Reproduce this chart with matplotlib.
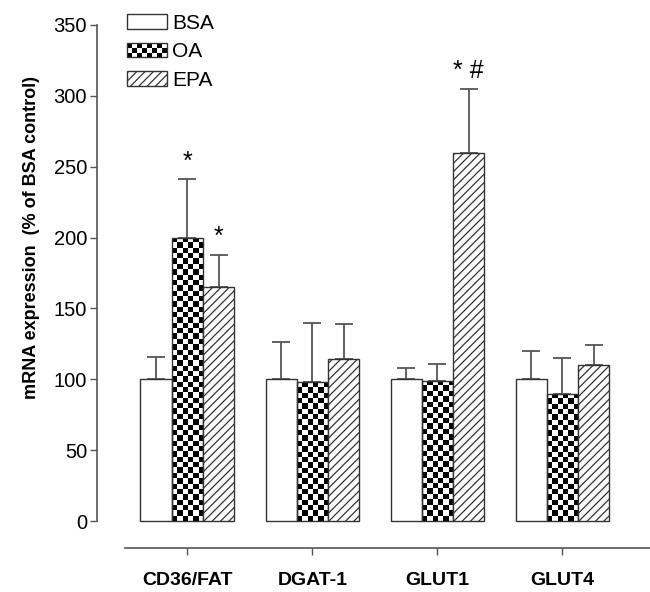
import numpy as np
import matplotlib.pyplot as plt
from matplotlib.patches import Rectangle
from matplotlib.legend_handler import HandlerBase

genes = ["CD36/FAT", "DGAT-1", "GLUT1", "GLUT4"]
groups = ["BSA", "OA", "EPA"]

bsa = [100, 100, 100, 100]
bsa_err = [16, 26, 8, 20]
oa = [200, 98, 99, 90]
oa_err = [41, 42, 12, 25]
epa = [165, 114, 260, 110]
epa_err = [23, 25, 45, 14]

# significance marks: (gene index, group index, text)
marks = [(0, 1, "*"), (0, 2, "*"), (2, 2, "* #")]

edge = "#333333"
errc = "#555555"


def checker_fill(ax, bar, ncols=6, cell_px=5.3):
    # checkerboard pattern clipped to the bar
    x0, w, h = bar.get_x(), bar.get_width(), bar.get_height()
    px_per_unit = ax.transData.transform((0, 1))[1] - ax.transData.transform((0, 0))[1]
    nrows = max(1, int(round(h * px_per_unit / cell_px)))
    img = (np.indices((nrows, ncols)).sum(axis=0) % 2).astype(float)
    im = ax.imshow(img, cmap="gray", vmin=0, vmax=1, extent=(x0, x0 + w, 0, h),
                   origin="lower", aspect="auto", interpolation="nearest", zorder=1.5)
    im.set_clip_path(bar)


class CheckerHandler(HandlerBase):
    def legend_artist(self, legend, orig_handle, fontsize, handlebox):
        x0, y0 = handlebox.xdescent, handlebox.ydescent
        w, h = handlebox.width, handlebox.height
        tr = handlebox.get_transform()
        nc, nr = 8, 3
        cw, ch = w / nc, h / nr
        for i in range(nc):
            for j in range(nr):
                if (i + j) % 2 == 0:
                    handlebox.add_artist(Rectangle((-x0 + i * cw, -y0 + j * ch), cw, ch,
                                                   facecolor="black", edgecolor="none", transform=tr))
        handlebox.add_artist(Rectangle((-x0, -y0), w, h, facecolor="none",
                                       edgecolor=edge, lw=1, transform=tr))
        return handlebox


plt.rcParams['font.family'] = ['Liberation Sans', 'DejaVu Sans']
plt.rcParams['hatch.linewidth'] = 0.9
plt.rcParams['hatch.color'] = "#333333"

fig = plt.figure(figsize=(6.5, 5.92), dpi=100)
ax = fig.add_axes([0.149, 0.0743, 0.851, 0.8835])

x = np.arange(len(genes))
bw = 0.25
b1 = ax.bar(x - bw, bsa, bw, color="white", edgecolor=edge, lw=1, zorder=2)
b2 = ax.bar(x, oa, bw, color="none", edgecolor=edge, lw=1, zorder=2)
b3 = ax.bar(x + bw, epa, bw, color="white", edgecolor=edge, lw=1, hatch="////", zorder=2)

ax.set_ylim(-19, 350)
ax.set_xlim(-0.724, 3.7)

for b in b2:
    checker_fill(ax, b)

err_kw = dict(fmt="none", ecolor=errc, elinewidth=1.3, capsize=6.5, capthick=1.3, zorder=1)
ax.errorbar(x - bw, bsa, yerr=[np.zeros(4), bsa_err], **err_kw)
ax.errorbar(x, oa, yerr=[np.zeros(4), oa_err], **err_kw)
ax.errorbar(x + bw, epa, yerr=[np.zeros(4), epa_err], **err_kw)

vals = [bsa, oa, epa]
errs = [bsa_err, oa_err, epa_err]
for gi, si, txt in marks:
    top = vals[si][gi] + errs[si][gi]
    ax.text(x[gi] + (si - 1) * bw, top + 4, txt, ha="center", va="bottom",
            fontsize=18, color="black")

ax.spines["top"].set_visible(False)
ax.spines["right"].set_visible(False)
ax.spines["left"].set_bounds(0, 350)
ax.spines["bottom"].set_bounds(-0.5, 3.7)
for s in ("left", "bottom"):
    ax.spines[s].set_color("#555555")
    ax.spines[s].set_linewidth(1.2)

ax.set_yticks(np.arange(0, 351, 50))
ax.tick_params(axis="y", labelsize=14.5, length=5, width=1, color="#555555", pad=2)
ax.set_xticks(x)
ax.set_xticklabels(genes, fontsize=14, fontweight="bold")
ax.tick_params(axis="x", length=5, width=1, color="#555555", pad=12)

ax.set_ylabel("mRNA expression  (% of BSA control)", fontsize=13, fontweight="bold")
ax.yaxis.set_label_coords(-0.103, 0.593)

leg = ax.legend([b1[0], b2[0], b3[0]], groups, loc="upper left", bbox_to_anchor=(0.04, 1.037),
                frameon=False, fontsize=15, handlelength=1.92, handleheight=0.72,
                handletextpad=0.24, labelspacing=0.45, borderaxespad=0,
                handler_map={b2[0]: CheckerHandler()})

fig.savefig("out.png", dpi=100)
